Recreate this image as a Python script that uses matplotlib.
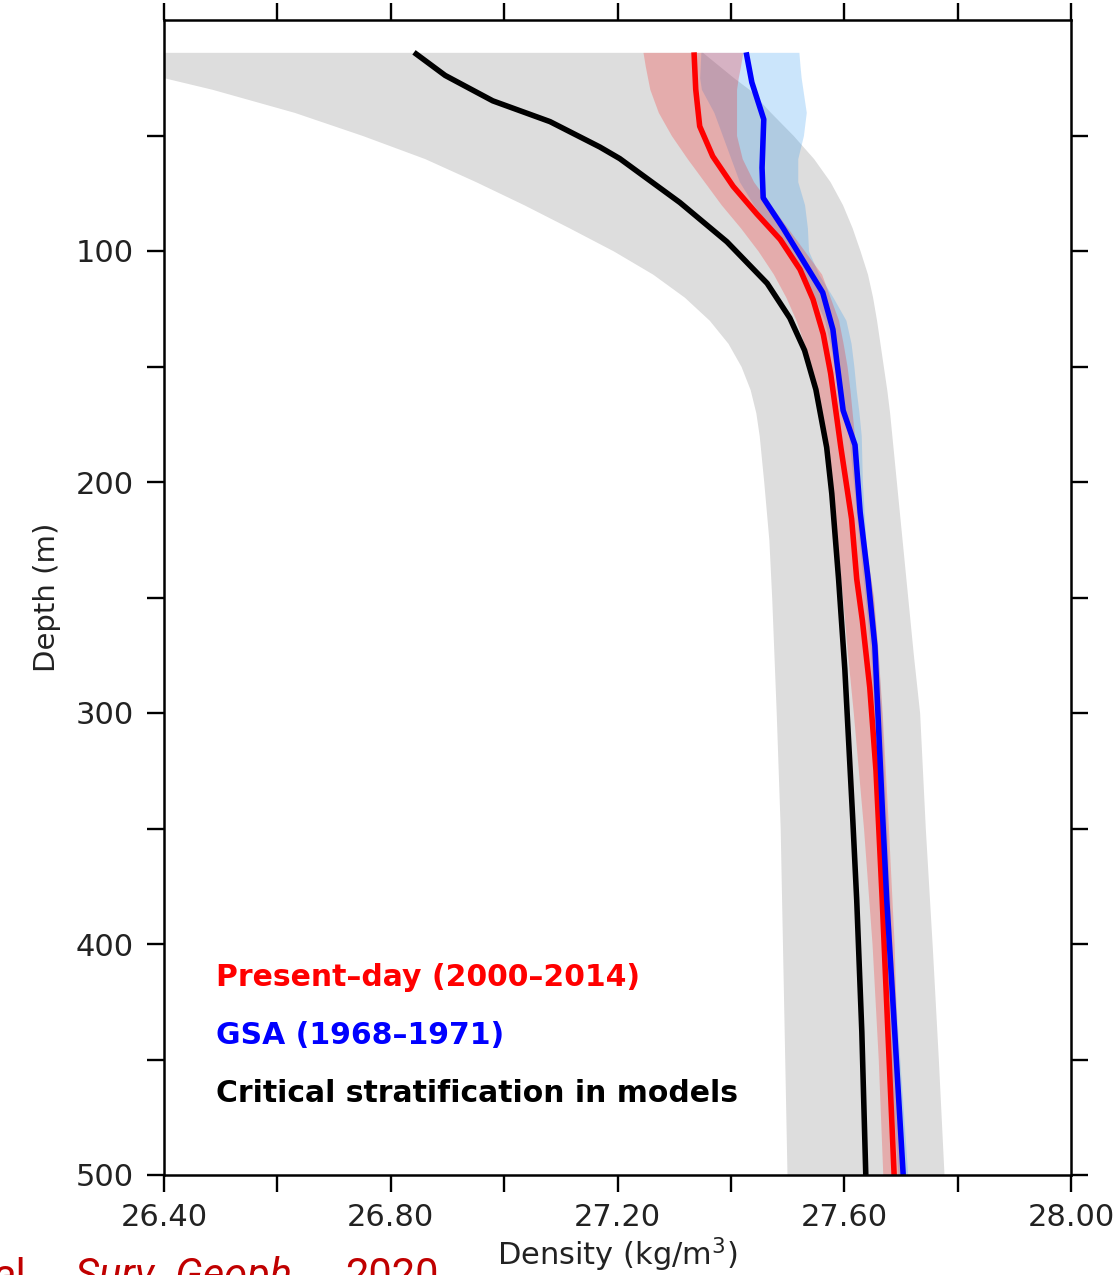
import numpy as np
import matplotlib
matplotlib.use("Agg")
import matplotlib.pyplot as plt

# ---------------------------------------------------------------------------
# Density profiles (kg/m^3) versus depth (m)
# ---------------------------------------------------------------------------
# Critical stratification in models (ensemble mean)
crit_depth = [14, 24, 35, 44, 55, 60, 79, 96, 114, 129, 143, 160, 185, 205,
              242, 281, 346, 381, 438, 500]
crit_rho = [26.841, 26.896, 26.980, 27.081, 27.169, 27.204, 27.310, 27.393,
            27.464, 27.504, 27.530, 27.550, 27.569, 27.578, 27.590, 27.601,
            27.615, 27.622, 27.631, 27.638]

# Present-day (2000-2014)
pd_depth = [14, 30, 46, 59, 72, 84, 95, 108, 121, 136, 153, 185, 216, 242,
            260, 289, 325, 381, 438, 500]
pd_rho = [27.335, 27.338, 27.345, 27.368, 27.404, 27.446, 27.487, 27.522,
          27.545, 27.563, 27.576, 27.594, 27.613, 27.622, 27.632, 27.645,
          27.656, 27.667, 27.677, 27.688]

# GSA (1968-1971)
gsa_depth = [14, 27, 43, 64, 77, 90, 104, 118, 134, 148, 169, 184, 213, 242,
             271, 346, 381, 438, 500]
gsa_rho = [27.427, 27.437, 27.458, 27.455, 27.457, 27.492, 27.527, 27.562,
           27.580, 27.587, 27.598, 27.619, 27.628, 27.642, 27.654, 27.668,
           27.675, 27.689, 27.704]

# Spread envelopes, on a shared depth grid
band_depth = [14, 20, 25, 30, 40, 50, 60, 70, 80, 90, 100, 110, 120, 130, 140,
              150, 160, 170, 180, 200, 225, 250, 275, 300, 350, 400, 450, 500]

crit_lo = [26.25, 26.33, 26.40, 26.485, 26.63, 26.75, 26.86, 26.95, 27.035,
           27.115, 27.193, 27.262, 27.318, 27.362, 27.395, 27.418, 27.434,
           27.444, 27.450, 27.458, 27.467, 27.472, 27.476, 27.480, 27.487,
           27.491, 27.495, 27.499]
crit_hi = [27.35, 27.38, 27.405, 27.432, 27.47, 27.51, 27.546, 27.575, 27.597,
           27.614, 27.628, 27.641, 27.65, 27.657, 27.663, 27.669, 27.675,
           27.68, 27.684, 27.692, 27.702, 27.712, 27.722, 27.733, 27.743,
           27.755, 27.766, 27.776]

pd_lo = [27.245, 27.249, 27.253, 27.257, 27.272, 27.295, 27.323, 27.353,
         27.383, 27.417, 27.448, 27.475, 27.497, 27.515, 27.529, 27.541,
         27.551, 27.557, 27.563, 27.573, 27.587, 27.597, 27.606, 27.616,
         27.634, 27.649, 27.660, 27.668]
pd_hi = [27.421, 27.417, 27.413, 27.41, 27.41, 27.41, 27.42, 27.44, 27.47,
         27.50, 27.53, 27.56, 27.575, 27.59, 27.598, 27.605, 27.61, 27.614,
         27.618, 27.626, 27.636, 27.652, 27.66, 27.667, 27.678, 27.688,
         27.694, 27.70]

gsa_lo = [27.347, 27.346, 27.345, 27.348, 27.37, 27.385, 27.40, 27.415, 27.44,
          27.47, 27.50, 27.525, 27.548, 27.565, 27.575, 27.582, 27.59, 27.596,
          27.608, 27.616, 27.626, 27.637, 27.647, 27.652, 27.660, 27.668,
          27.680, 27.695]
gsa_hi = [27.52, 27.522, 27.524, 27.527, 27.533, 27.528, 27.518, 27.518,
          27.530, 27.535, 27.537, 27.555, 27.58, 27.603, 27.612, 27.617,
          27.621, 27.626, 27.630, 27.632, 27.638, 27.651, 27.660, 27.666,
          27.675, 27.684, 27.698, 27.712]

legend_labels = ["Present\u2013day (2000\u20132014)", "GSA (1968\u20131971)",
                 "Critical stratification in models"]
x_ticks = [26.4, 26.6, 26.8, 27.0, 27.2, 27.4, 27.6, 27.8, 28.0]
y_ticks = [50, 100, 150, 200, 250, 300, 350, 400, 450, 500]

# ---------------------------------------------------------------------------
W, H = 1120, 1275
fig = plt.figure(figsize=(W / 100, H / 100), dpi=100)
ax = fig.add_axes([164 / W, 100 / H, 907 / W, 1155 / H])

ax.fill_betweenx(band_depth, crit_lo, crit_hi, color="#dddddd", lw=0, zorder=1)
ax.fill_betweenx(band_depth, gsa_lo, gsa_hi, color=(0.08, 0.55, 0.94),
                 alpha=0.22, lw=0, zorder=2)
ax.fill_betweenx(band_depth, pd_lo, pd_hi, color="red", alpha=0.22, lw=0,
                 zorder=3)

line_kw = dict(lw=4.0, solid_capstyle="butt", solid_joinstyle="round")
ax.plot(crit_rho, crit_depth, color="black", zorder=4, **line_kw)
ax.plot(pd_rho, pd_depth, color="red", zorder=5, **line_kw)
ax.plot(gsa_rho, gsa_depth, color="blue", zorder=6, **line_kw)

ax.set_xlim(26.4, 28.0)
ax.set_ylim(500, 0)

ax.set_xticks(x_ticks)
ax.set_xticklabels([f"{v:.2f}" if round(v * 10) % 4 == 0 else ""
                    for v in x_ticks])
ax.set_yticks(y_ticks)
ax.set_yticklabels([str(v) if v % 100 == 0 else "" for v in y_ticks])

for s in ax.spines.values():
    s.set_linewidth(1.8)
    s.set_zorder(10)
ax.tick_params(which="both", direction="out", length=12, width=1.7,
               top=True, right=True, labelsize=22, colors="black",
               labelcolor="#222222")
ax.tick_params(axis="x", pad=8)
ax.tick_params(axis="y", pad=10)

ax.set_xlabel("Density (kg/m$^3$)", fontsize=22, labelpad=3, color="#222222")
ax.set_ylabel("Depth (m)", fontsize=21, labelpad=10, color="#222222")

# Legend as coloured text lines
lx = (216 - 164) / 907
for lab, col, py in zip(legend_labels, ["red", "blue", "black"],
                        [978, 1036, 1094]):
    ax.text(lx, (1175 - py) / 1155, lab, transform=ax.transAxes, color=col,
            fontsize=21.5, fontweight="bold", va="center", ha="left",
            zorder=8)

# Reference line at the bottom edge
cite_y = (H - 1288) / H
cite_kw = dict(fontsize=30, color="#c00000", family="Roboto", va="baseline")
fig.text(-6 / W, cite_y, "al.,", **cite_kw)
fig.text(75 / W, cite_y, "Surv. Geoph.,", style="italic", **cite_kw)
fig.text(345 / W, cite_y, "2020", **cite_kw)

fig.savefig("out.png", dpi=100)
